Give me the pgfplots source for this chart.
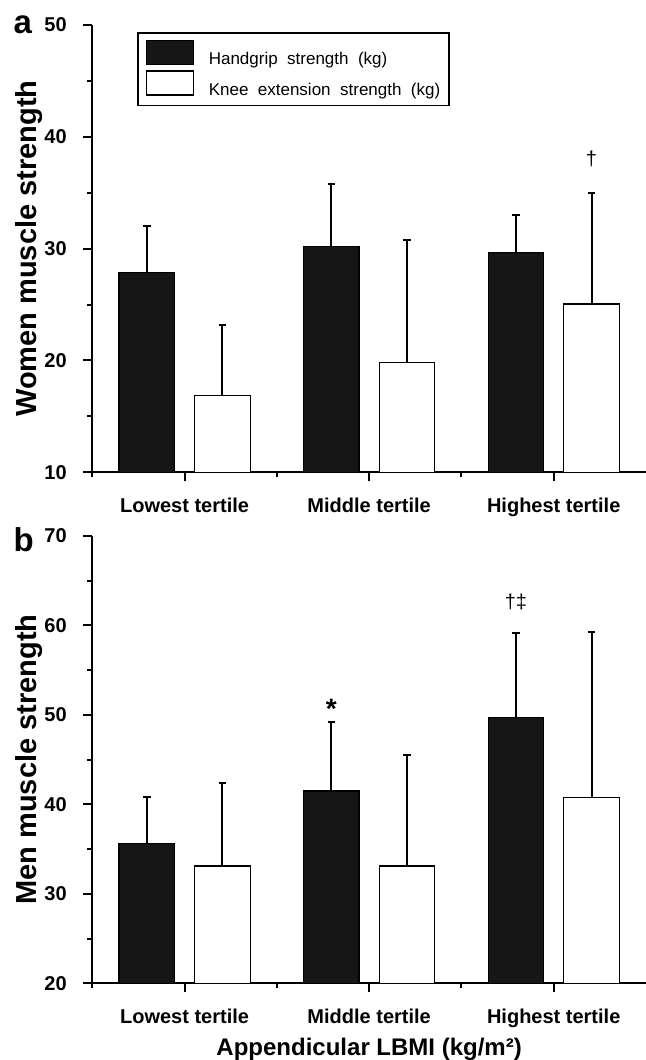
\documentclass[border=0pt]{standalone}
\usepackage{fontspec}
\setmainfont{Liberation Sans}
\usepackage{pgfplots}
\pgfplotsset{compat=1.18}
\definecolor{barblack}{HTML}{161616}

\pgfplotsset{
  panel/.style={
    scale only axis, width=276.85pt, height=223.7pt,
    anchor=south west,
    axis x line=bottom, axis y line=left,
    axis line style={line width=1pt, -},
    xmin=0.5, xmax=3.5,
    xtick={1,2,3}, minor xtick={0.5,1.5,2.5},
    xticklabels={Lowest tertile, Middle tertile, Highest tertile},
    tick align=outside,
    major tick length=4.5pt, minor tick length=2.5pt,
    tick style={line width=1pt, black},
    /pgf/number format/assume math mode=true,
    tick label style={font=\bfseries\fontsize{10}{12}\selectfont},
    xticklabel style={yshift=-5pt},
    yticklabel style={xshift=-4.8pt},
    ylabel style={at={(axis description cs:-0.1004,0.5)}, anchor=base, font=\bfseries\fontsize{14.5}{16}\selectfont},
  },
  errs/.style={
    /pgfplots/error bars/y dir=plus,
    /pgfplots/error bars/y explicit,
    /pgfplots/error bars/error bar style={line width=1pt, black},
    /pgfplots/error bars/error mark options={line width=1pt, black, mark size=1.9pt, rotate=90}},
  hand/.style={ybar, bar width=0.3, bar shift=0, mark=none, fill=barblack, draw=black, line width=0.6pt, errs},
  knee/.style={ybar, bar width=0.3, bar shift=0, mark=none, fill=white, draw=black, line width=0.6pt, errs},
}

\begin{document}
\begin{tikzpicture}
\useasboundingbox (0,0) rectangle (323pt,-530pt);

\node[anchor=base west, font=\bfseries\fontsize{16.5}{18}\selectfont, inner sep=0pt] at (6.65pt,-16.65pt) {a};
\node[anchor=base west, font=\bfseries\fontsize{16.5}{18}\selectfont, inner sep=0pt] at (6.65pt,-275.85pt) {b};

% Panel a: women (bars centred 0.205 either side of each tertile)
\begin{axis}[panel,
  at={(46.15pt,-236.15pt)},
  ymin=10, ymax=50,
  ytick={10,20,30,40,50}, minor ytick={15,25,35,45},
  ylabel={Women muscle strength},
  legend style={at={(rel axis cs:0.0807,0.9837)}, anchor=north west,
    draw=black, line width=0.9pt, inner xsep=4.2pt, inner ysep=3.3pt,
    column sep=7.3pt, row sep=1.2pt,
    font=\fontsize{8.5}{10}\selectfont,
    nodes={inner sep=0pt, text height=6.3pt, text depth=1.8pt}},
  legend cell align=left,
]
\addplot[forget plot, hand] coordinates {(0.795,27.88) +- (0,4.15) (1.795,30.18) +- (0,5.57) (2.795,29.64) +- (0,3.36)};
\addplot[forget plot, knee] coordinates {(1.205,16.86) +- (0,6.34) (2.205,19.80) +- (0,11.00) (3.205,25.05) +- (0,9.95)};
\addlegendimage{legend image code/.code={\draw[fill=barblack, draw=black, line width=0.6pt] (0pt,-2.15pt) rectangle (23.35pt,9.85pt);}}
\addlegendentry{Handgrip\ \ strength\ \ (kg)}
\addlegendimage{legend image code/.code={\draw[fill=white, draw=black, line width=0.6pt] (0pt,-2.15pt) rectangle (23.35pt,9.85pt);}}
\addlegendentry{Knee\ \ extension\ \ strength\ \ (kg)}
\node[font=\fontsize{10}{12}\selectfont] at (axis cs:3.205,38.0) {†};
\end{axis}

% Panel b: men
\begin{axis}[panel,
  at={(46.15pt,-491.65pt)},
  ymin=20, ymax=70,
  ytick={20,30,40,50,60,70}, minor ytick={25,35,45,55,65},
  ylabel={Men muscle strength},
  xlabel={Appendicular LBMI (kg/m²)},
  xlabel style={at={(axis description cs:0.5,0)}, anchor=base, yshift=-35.85pt, font=\bfseries\fontsize{12}{14}\selectfont},
]
\addplot[hand] coordinates {(0.795,35.64) +- (0,5.21) (1.795,41.50) +- (0,7.70) (2.795,49.75) +- (0,9.45)};
\addplot[knee] coordinates {(1.205,33.10) +- (0,9.30) (2.205,33.10) +- (0,12.40) (3.205,40.76) +- (0,18.54)};
\node[font=\bfseries\fontsize{14}{14}\selectfont] at (axis cs:1.795,50.65) {*};
\node[font=\fontsize{10}{12}\selectfont] at (axis cs:2.795,62.6) {†‡};
\end{axis}
\end{tikzpicture}
\end{document}
